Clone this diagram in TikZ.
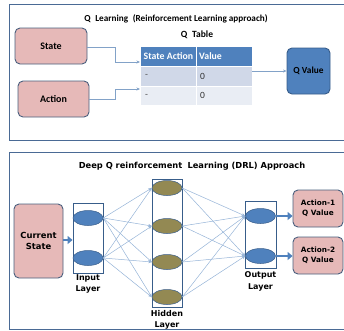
\documentclass[tikz,border=0pt]{standalone}
\usepackage{fontspec}
\setmainfont{Carlito}
\newfontfamily\wide{DejaVu Sans}
\usetikzlibrary{arrows.meta,shapes.geometric}
\definecolor{pinkfill}{HTML}{E6B9B8}
\definecolor{boxline}{HTML}{4A5F7E}
\definecolor{accblue}{HTML}{4F81BD}
\definecolor{darkblue}{HTML}{385D8A}
\definecolor{olive}{HTML}{938953}
\definecolor{wire}{HTML}{95B3D7}
\definecolor{rowa}{HTML}{D0D8E8}
\definecolor{rowb}{HTML}{E9EDF4}
\definecolor{frame}{HTML}{4A6A95}
\tikzset{
  pinkbox/.style={draw=boxline, fill=pinkfill, rounded corners=5pt, line width=0.9pt,
    minimum width=#1, inner sep=1pt, align=center, font=\bfseries\fontsize{10}{11}\selectfont},
  bluebox/.style={draw=darkblue, fill=accblue, rounded corners=5pt, line width=0.9pt,
    align=center, inner sep=1pt, font=\bfseries\fontsize{9.3}{10}\selectfont},
  layerbox/.style={draw=darkblue, line width=0.9pt, inner sep=0pt},
  neuron/.style={ellipse, draw=darkblue, line width=0.5pt, minimum width=30pt, minimum height=15pt, inner sep=0pt},
  wirearrow/.style={draw=wire, line width=0.5pt, -{Stealth[length=3.5pt,width=3pt]}},
  thinarrow/.style={draw=wire!80!darkblue, line width=0.6pt, -{Stealth[length=3.5pt,width=3pt]}},
  fatarrow/.style={draw=accblue, line width=2.6pt, -{Triangle[length=5pt,width=8pt]}},
  cellrect/.style={draw=white, line width=0.6pt},
  celltext/.style={anchor=west, inner sep=0pt, font=\fontsize{9.5}{10}\selectfont},
  dlabel/.style={align=center, font=\wide\bfseries\fontsize{8}{11.5}\selectfont},
  plabel/.style={align=center, inner sep=1pt, font=\wide\bfseries\fontsize{7.3}{9.5}\selectfont},
}
\begin{document}
\begin{tikzpicture}[x=1pt,y=-1pt]
\useasboundingbox (0,0) rectangle (344,330);

% ---------- upper panel: tabular Q learning ----------
\draw[frame, line width=1pt] (345,4) -| (9,140) -- (345,140);
\node[font=\bfseries\fontsize{9.2}{10}\selectfont] (qtitle) at (176,19) {Q\; Learning\; (Reinforcement Learning approach)};
\node[font=\bfseries\fontsize{9.5}{10}\selectfont] (qtab) at (197,35) {Q\; Table};

\node[pinkbox=72pt, minimum height=36pt] (state) at (51,46) {State};
\node[pinkbox=71pt, minimum height=36pt] (action) at (53.5,99) {Action};

% the table
\fill[accblue] (141,47) rectangle (252,66);
\fill[rowa] (141,66) rectangle (252,86);
\fill[rowb] (141,86) rectangle (252,105);
\draw[cellrect] (196,47) -- (196,105) (141,66) -- (252,66) (141,86) -- (252,86);
\node[celltext, text=white, font=\bfseries\fontsize{9.8}{10}\selectfont] (hsa) at (143.5,56.5) {State Action};
\node[celltext, text=white, font=\bfseries\fontsize{9.8}{10}\selectfont] (hv) at (199,56.5) {Value};
\node[celltext, text=black!70] (r1a) at (145,76) {-};
\node[celltext, text=black!80] (r1b) at (200,76) {0};
\node[celltext, text=black!70] (r2a) at (145,95.5) {-};
\node[celltext, text=black!80] (r2b) at (200,95.5) {0};
\coordinate (tin1) at (140,62);
\coordinate (tin2) at (140,89);
\coordinate (tout) at (252,71);

\node[bluebox, minimum width=43pt, minimum height=46pt] (qval) at (308.5,71) {Q Value};

\draw[thinarrow] (state.east |- 0,47) -- (115,47) -- (115,62) -- (tin1);
\draw[thinarrow] (action.east) -- (115,99) -- (115,89) -- (tin2);
\draw[thinarrow] (tout) -- (qval.west |- tout);

% ---------- lower panel: deep Q network ----------
\draw[frame, line width=1pt] (345,152) -| (9,329) -- (345,329);
\node[font=\wide\bfseries\fontsize{8.3}{9}\selectfont] (dtitle) at (192,166) {Deep Q reinforcement\; Learning (DRL) Approach};

\node[pinkbox=49pt, minimum height=74pt, plabel, font=\wide\bfseries\fontsize{8.4}{11}\selectfont] (cur) at (38.5,241) {Current\\State};

% layer frames
\node[layerbox, minimum width=30pt, minimum height=70pt] (inL) at (88,238) {};
\node[layerbox, minimum width=30pt, minimum height=128pt] (hidL) at (167,243) {};
\node[layerbox, minimum width=31pt, minimum height=67pt] (outL) at (260.5,234.5) {};

% neurons
\node[neuron, fill=accblue] (i1) at (88,218) {};
\node[neuron, fill=accblue] (i2) at (88,258) {};
\node[neuron, fill=olive] (h1) at (167,188) {};
\node[neuron, fill=olive] (h2) at (167,226) {};
\node[neuron, fill=olive] (h3) at (167,262) {};
\node[neuron, fill=olive] (h4) at (167,297) {};
\node[neuron, fill=accblue] (o1) at (260.5,216) {};
\node[neuron, fill=accblue] (o2) at (260.5,256) {};

% weights
\foreach \a in {i1,i2}
  \foreach \b in {h1,h2,h3,h4}
    \draw[wirearrow] (\a.east) -- (\b.west);
\foreach \a in {h1,h2,h3,h4}
  \foreach \b in {o1,o2}
    \draw[wirearrow] (\a.east) -- (\b.west);

\node[dlabel] (inlab) at (88,284) {Input\\Layer};
\node[dlabel] (hidlab) at (167,320) {Hidden\\Layer};
\node[dlabel] (outlab) at (260.5,281.5) {Output\\Layer};

\node[pinkbox=50pt, minimum height=37pt, plabel] (a1) at (318,208.5) {Action-1\\Q Value};
\node[pinkbox=50pt, minimum height=37pt, plabel] (a2) at (318,255.5) {Action-2\\Q Value};

\draw[fatarrow] (cur.east |- 0,240) -- (inL.west |- 0,240);
\draw[fatarrow] (o1.east) -- (o1.east -| a1.west);
\draw[fatarrow] (o2.east) -- (o2.east -| a2.west);
\end{tikzpicture}
\end{document}
